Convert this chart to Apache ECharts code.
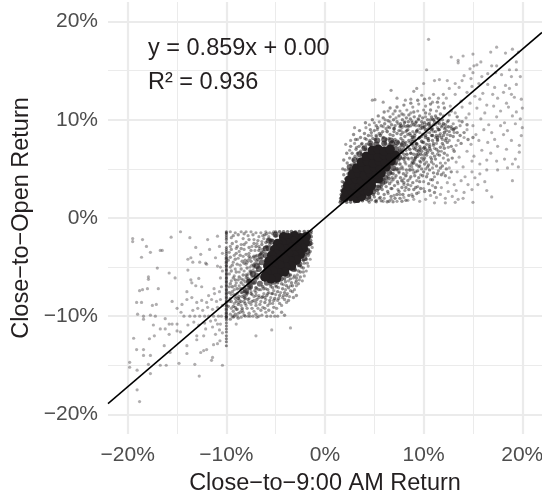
<!DOCTYPE html>
<html><head><meta charset="utf-8">
<style>html,body{margin:0;padding:0;background:#fff}#c{width:542px;height:497px}</style>
<script src="https://cdn.jsdelivr.net/npm/echarts@6/dist/echarts.min.js"></script>
</head><body><div id="c"></div>
<script>
const majorTicks=[-20,-10,0,10,20];
const minorTicks=[-15,-5,5,15];
const fitX=[-22,22];
const fitY=[-18.9,18.9];
const xTitle='Close\u2212to\u22129:00 AM Return';
const yTitle='Close\u2212to\u2212Open Return';
const eqText='y = 0.859x + 0.00';
const r2Text='R\u00b2 = 0.936';

const posFar=[[10.5,18.2],[10.3,15.1],[12.8,16.4],[13.5,16.05],[13.5,15.8],[14,16.5],[15,16.7],[16.8,16.9],[17.4,17.4],[18.3,16.8],[19,17.2],[19.6,16.9],[19.4,15.9],[15.8,15.9],[15.4,15.6],[15.1,15.5],[14.7,15.2],[16.9,15.5],[17.4,15.5],[18.7,15.1],[19.4,15.1],[19.8,14.4],[18.9,14.4],[17.9,14.6],[17.3,14.8],[16.5,14.7],[15.9,14.4],[15,14.8],[14.8,14.2],[14.1,14.5],[13.9,14],[13.2,13.7],[13.6,13.3],[14.9,13.4],[15.6,13.7],[16.5,13.6],[17.2,13.3],[18.3,13.5],[19.4,13.6],[18.7,13.2],[18.1,12.8],[18.9,12.6],[17,12.6],[16,12.7],[15.2,12.4],[14.4,12.8],[13.2,12.6],[12.6,13.2],[12.4,14],[11.6,14.1],[11.1,14],[10,13.7],[12.3,12.2],[13.8,11.9],[14.7,11.7],[15.7,12.1],[16.4,11.5],[17.5,12.2],[18.4,11.7],[19.2,12.3],[19.9,12.1],[20,11.2],[19.4,10.8],[18.6,11.3],[17.8,10.9],[17.1,11.4],[16.2,10.7],[15.4,11.2],[14.6,10.6],[13.9,11.3],[13.2,10.7],[12.7,11.4],[19.8,10.1],[19,10.4],[18.2,9.7],[17.4,10.3],[16.6,9.5],[15.8,10.1],[15,9.4],[14.3,10.2],[13.6,9.9],[20,9.2],[19.3,9.6],[18.5,8.9],[17.8,9.4],[16.9,8.7],[16.1,9],[15.3,8.5],[14.4,9],[19.9,8.4],[18.9,7.9],[18.1,8.5],[17.2,8],[16.5,7.7],[15.6,7.9],[14.8,7.5],[14.1,8.2],[13.3,7.4],[19.7,7.4],[18.4,7],[17.5,7.3],[16.8,6.6],[15.9,6.9],[15.1,6.3],[14.4,6.8],[13.6,6.2],[13,7],[19.7,6.7],[19.3,6],[18.2,6],[17.4,5.8],[16.4,5.9],[15.7,5.5],[14.9,5.8],[14,5.2],[13.3,5.7],[12.6,5.1],[19.6,5.2],[19,5.5],[18.5,5.1],[17.5,4.9],[16.4,4.9],[15.7,4.5],[14.9,4.7],[14.2,4.2],[13.4,4.7],[12.6,4.1],[19,3.8],[16.2,3.7],[15.5,3.4],[15.2,4.1],[14.5,3.4],[13.8,3.8],[13.1,3.4],[12.4,3.6],[11.8,3.1],[16.4,2.8],[16.9,2.15],[14.9,2.9],[14.1,2.6],[13.3,2.8],[12.5,2.7],[11.7,2.4],[15,1.6],[14,2],[13.5,1.9],[13.2,1.6],[12.2,1.55],[11.1,1.55],[12.9,2.2],[12.2,2],[11.3,2.1],[10.7,2.3],[10.2,1.9],[9.6,1.7],[9,1.9],[8.4,1.8],[8,2.1],[8.8,2.4],[9.5,2.6],[10,3],[10.9,3.3]];

const posMid=[[2.1,7.5],[2.6,7.9],[3,7.6],[3.3,8],[3,9.2],[4.15,9.2],[4.5,9.5],[5,9.7],[5.5,9.8],[4.8,12],[5.07,12.05],[5.9,11.8],[6.7,13],[7.3,12.2],[8.15,12],[8.7,12.1],[9,12.9],[9.3,13.2],[9.8,12.5],[10.6,12.2],[11,12.6],[11.5,12.2],[12,12.6],[9.5,11.6],[10.2,11.4],[10.9,11.8],[11.5,11.3],[12,11.7],[8.3,11],[8.9,11.3],[7.6,10.9],[6.9,10.6],[6.4,10.9],[7.2,10.2],[8,10.5],[8.7,10.7],[9.4,10.9],[10,11],[10.6,10.6],[11.3,10.9],[12,10.4],[12.6,10.5],[6.1,10],[6.6,9.8],[7.4,9.6],[8.1,9.8],[8.8,9.9],[9.5,10],[10.2,10.3],[10.9,10.1],[11.6,9.9],[12.4,9.8],[13,9.6],[13.7,9.4],[5.3,9],[5.9,9.3],[6.4,9.3],[7,9.1],[7.8,9.2],[8.5,9.3],[9.2,9.4],[10,9.3],[10.7,9.4],[11.4,9.2],[12.1,9.1],[12.8,9.1],[2.5,6.9],[3.2,7.2],[3.7,7.5],[4.2,8],[4.7,8.4],[5.2,8.3],[5.7,8.6],[8.2,8.8],[8.9,8.8],[9.6,8.7],[10.3,8.7],[11,8.8],[11.7,8.6],[12.4,8.5],[13.1,8.7],[9.1,8.2],[9.8,8.3],[10.5,8.1],[11.2,8.2],[11.9,8],[12.6,7.9],[13.5,7.9],[9.2,7.6],[9.9,7.7],[10.6,7.5],[11.3,7.6],[12,7.4],[12.5,7.2],[9.1,7],[9.7,7.1],[10.4,6.9],[11.1,7.1],[11.8,6.8],[12.4,6.4],[9.3,6.5],[10,6.4],[10.7,6.2],[11.4,6.5],[12,6.1],[9,5.9],[9.6,5.8],[10.3,5.7],[11,5.5],[11.7,5.6],[12.2,5.6],[8.8,5.2],[9.5,5.2],[10.2,5],[10.9,5.1],[11.5,4.8],[12,4.6],[8.3,4.6],[9,4.6],[9.7,4.4],[10.4,4.5],[11.1,4.2],[8,4],[8.6,4],[9.3,3.8],[10,3.7],[10.7,3.9],[11.4,3.6],[7.4,3.5],[8,3.4],[8.7,3.3],[9.4,3.2],[6.8,3],[7.4,2.9],[8.1,2.8],[7,2.3],[7.6,2.4],[6.4,2.5],[6,2],[6.7,1.9],[7.3,1.7],[5.5,2],[5.9,1.7],[5.1,1.7],[4.5,1.6],[8.6,7.7],[8.4,7.2],[8.7,6.6],[8.5,6],[8.2,5.5],[7.9,5],[7.5,4.6],[7.1,4.1],[6.7,3.7],[8.9,8.3],[9.4,9],[10.6,9.7],[9.9,9.6],[11.2,9.5],[11.9,9.4],[9.1,8.6],[8.2,9.3],[7.7,8.9]];

const posHalo=[[1.75,3.7],[1.9,4.4],[2.05,4.9],[2.2,3.9],[2.25,5.6],[2.4,4.9],[2.5,6.1],[2.65,5.4],[2.75,6.6],[2.85,5.9],[3.05,6.3],[3.15,7],[3.3,6.6],[3.45,7.3],[3.6,6.8],[3.75,7.6],[3.9,7.2],[4.05,8.1],[4.2,7.5],[4.4,8.4],[4.55,7.9],[4.7,8.7],[4.85,8.1],[5,8.9],[5.2,8.4],[5.35,9.2],[5.5,8.6],[5.7,9.4],[5.85,8.8],[6.05,9.6],[6.2,9.1],[6.4,9.9],[6.55,9.2],[6.75,9.5],[6.95,10],[7.1,9.4],[7.3,9.8],[7.5,10.4],[7.65,9.6],[7.85,10],[8.05,9.7],[8.25,10.2],[8.45,9.8],[8.65,10.1],[8.85,9.7],[9.05,10.3],[9.25,9.8],[9.45,10.1],[9.7,9.4],[9.9,10.2],[10.1,9.7],[10.4,10],[10.6,9.4],[10.8,10.3],[11.1,9.8],[11.3,10.2],[11.6,9.6],[11.9,10],[12.2,9.5],[12.5,9.9],[12.8,9.3],[13.1,9.1],[4.4,1.75],[4.7,1.85],[5,2.15],[5.2,1.8],[5.4,2.5],[5.6,2.1],[5.8,2.9],[6,2.4],[6.2,3.2],[6.35,2.7],[6.55,3.5],[6.7,3],[6.9,3.9],[7.05,3.3],[7.2,4.3],[7.35,3.7],[7.5,4.7],[7.65,4.1],[7.8,5.2],[7.95,4.5],[8.1,5.7],[8.25,4.9],[8.4,6.1],[8.55,5.3],[8.7,6.6],[8.85,5.7],[9,7.1],[9.15,6.1],[9.3,7.6],[9.45,6.5],[9.6,7.3],[9.8,6.8],[10,7.7],[10.2,7],[10.4,8.1],[10.6,7.3],[10.8,8.4],[11,7.6],[11.2,8.8],[11.4,7.9],[11.6,8.4],[5.2,1.65],[5.7,1.75],[6.3,1.65],[6.7,2.2],[7.1,2],[7.5,2.7],[7.9,2.4],[8.2,3.1],[8.5,2.9],[8.9,3.6],[9.2,3.1],[9.6,3.7],[9.9,4.3],[10.3,4.2],[10.6,4.9],[11,4.6],[11.3,5.3],[11.7,5.1],[8,3.6],[8.4,3.8],[8.7,4.2],[9.1,4.3],[9.4,4.8],[9.8,5],[10.1,5.5],[10.5,5.4],[10.8,6],[11.2,6],[11.6,6.4],[8.9,4.9],[9.3,5.4],[9.7,5.7],[10.1,6.1],[10.4,6.7],[10.9,6.6],[11.3,7],[11.7,7.2],[12.1,7.1],[12.3,8.1],[8.8,8],[9.1,7.9],[9.5,8.1],[9.9,8.5],[10.2,8.2],[10.6,8.7],[10.9,9.1],[11.3,8.4],[11.6,9],[12,8.4],[12.3,8.9],[12.7,8.4],[9.3,8.9],[9.7,9.1],[10.1,9.3],[10.5,9.1],[8.7,9.4],[8.4,9],[8,9.4],[7.6,9.3],[9.2,9.7],[8.6,8.6]];

const posTip=[[7.4,7.7],[7.7,8.1],[7.1,8],[6.8,7.8],[7.9,7.9],[8.2,7.7],[6.5,8.1],[6.9,8.4],[7.3,8.6],[7.7,8.5],[8.1,8.3],[8.4,8.5],[7.5,8.9],[7.9,8.7],[8.3,8.9],[8.7,8.4],[8.9,7.8],[9.1,8.4],[6.2,8],[5.9,8.2],[6.6,8.5],[7,8.8],[7.2,7.4],[7.6,7.2],[8,7.1],[8.3,7.4],[8.5,7.9],[7.8,7.5],[6.1,7.6],[6.5,7.5],[6.9,7.3],[8,6.5],[7.7,6.8],[8.2,6.9],[7.4,6.6],[7.8,6.1],[7.5,5.9],[8.1,6.2],[7.2,5.5],[7.6,5],[7,4.9],[6.7,4.6],[7.3,4.9],[6.4,4.2],[6.8,4.1],[6,3.9],[6.3,3.7],[5.7,3.6],[5.4,3.2],[5,2.9],[9.5,9.4],[9.8,9.8],[10.3,9.5],[10.7,10],[11,9.5],[11.4,9.7],[11.8,9.3],[12.2,9.2],[12.6,8.8],[13,8.3],[13.4,8.7],[13.3,9.2],[10.2,10.7],[10.7,11],[11.2,10.4],[11.7,10.6],[9.6,10.4],[9,10.8],[8.5,10.5],[7.8,10.6],[7.1,10.9],[6.6,10.3],[5.9,10.2],[5.2,9.4],[4.6,9],[4,8.6],[3.6,8.2],[3.1,8],[2.6,7.3],[2.2,6.6],[1.9,5.9],[1.8,5],[2.9,8.5],[3.5,8.9],[4.1,9.7],[4.8,10],[5.4,10.4],[6,10.8],[6.6,11.2],[7.3,11.3],[8,11.5],[8.7,11.7],[9.4,12],[10.1,12.1],[10.7,11.6],[11.4,11.8],[12.1,11.2],[12.8,10.9],[13.4,10.3],[13.9,9.8],[14.4,9.5],[14.1,8.7],[13.7,8.4],[13.8,7.6],[14.5,8],[15,8.2],[12.4,7.7],[12.8,7.3],[13.1,6.8],[12.1,6.6],[12.5,5.9],[12.9,6.1],[11.9,5.3],[12.3,5],[12.8,4.7],[11.4,4.5],[11.8,4.4],[12.2,4.3],[10.9,3.9],[11.2,3.1],[10.5,3.5],[10.1,2.7],[9.7,3],[9.3,2.5],[8.9,2.2],[8.5,2.3],[8.2,1.8],[7.8,1.7],[10.6,2.8],[11.1,2.6],[6.5,1.7],[6.9,1.65],[7.6,2],[7.3,2.4],[7.8,3.1],[8.4,3.4],[9,2.9],[9.5,4.1],[10,4.7],[10.4,5.2],[10.8,5.7],[11.1,6.3],[11.5,6.8],[11.9,7.6],[12.2,7.9],[9.2,4.7],[9.6,5.3],[10,5.9],[10.3,6.4],[10.7,6.9],[11,7.4],[11.4,8],[11.8,8.2],[8.8,5.5],[9.1,5.9],[9.4,6.3],[9.8,6.1],[10.2,6.6],[10.6,7.1],[10.9,7.9],[10.3,7.5],[10,7.1],[9.6,7],[9.3,6.9],[9,6.5],[8.8,6.1],[8.9,7.4],[9.2,7.2]];

const posRing=[[2.5,5.2],[3,5.9],[3.5,6.5],[4,7.1],[4.6,7.6],[5.3,7.9],[6,8],[6.7,7.9],[7.3,7.7],[7.9,7.5],[7.7,6.8],[7.5,6.2],[7.1,5.7],[6.9,5.1],[6.5,4.6],[6.1,4.1],[5.8,3.6],[5.4,3.1],[4.9,2.7],[4.4,2.2],[5.2,7.5],[6,7.6],[6.8,7.6],[7.2,7],[5.6,3.9]];

const posDense=[[1.55,1.6],[1.6,1.75],[1.8,1.65],[2.2,1.6],[2.6,1.62],[3,1.65],[3.4,1.7],[3.8,1.75],[4.2,1.9],[1.6,2],[1.65,2.4],[1.7,2.8],[1.8,3.2],[1.95,3.6],[2.1,4],[2.35,4.5],[2.6,5],[2.95,5.5],[3.3,6],[3.7,6.5],[4.1,7],[4.6,7.5],[5.1,8],[5.6,8.4],[6.3,8.8],[7,9.1],[7.7,9.4],[8.4,9.4],[9,9.5],[4.5,2.1],[4.9,2.4],[5.3,2.8],[5.7,3.2],[6.1,3.6],[6.5,4],[6.9,4.5],[7.3,5],[7.6,5.5],[8,6],[8.3,6.5],[8.6,7],[8.8,7.6],[8.9,8.2],[9.3,8.8],[9.9,9.2],[10.5,9.6],[11,10],[11.5,10.1],[12,9.6],[12.5,9.3],[13,9],[10.2,9],[10.8,9],[11.5,9],[12.1,8.7],[9.6,8.2],[10.2,8.4],[10.9,8.4],[11.4,8.2],[9.3,7.5],[9.8,7.8],[10.5,7.9],[9.5,6.8],[10.1,7.2],[9.2,6.2],[9.7,6.5],[9,5.6],[8.6,4.9],[8.2,4.3],[7.8,3.8]];

const posCore=[[2,2.1],[2.6,2.2],[3.2,2],[3.7,2.2],[2.1,2.7],[2.7,2.8],[3.3,2.6],[3.9,2.8],[4.4,2.7],[2.3,3.3],[2.9,3.4],[3.5,3.2],[4.1,3.4],[4.7,3.3],[2.5,3.9],[3.1,4],[3.7,3.8],[4.3,4],[4.9,3.9],[5.4,4],[2.8,4.5],[3.4,4.6],[4,4.4],[4.6,4.6],[5.2,4.5],[5.7,4.6],[3.2,5.1],[3.8,5.2],[4.4,5],[5,5.2],[5.6,5.1],[6.2,5.2],[3.7,5.7],[4.3,5.8],[4.9,5.6],[5.5,5.8],[6.1,5.7],[6.7,5.8],[4.2,6.3],[4.8,6.4],[5.4,6.2],[6,6.4],[6.6,6.3],[7.1,6.4],[4.8,6.9],[5.4,7],[6,6.8],[6.6,7]];

const negFar=[[-19.5,-2.1],[-19.5,-2.4],[-18.5,-2.2],[-15.6,-1.95],[-14.65,-1.4],[-13.7,-2],[-11.9,-2.2],[-10.9,-1.85],[-18.1,-2.9],[-17.7,-3.5],[-16.7,-3.3],[-16.5,-3.3],[-18.6,-4],[-13.1,-3],[-11.7,-3.2],[-12.6,-3.7],[-13.9,-4.2],[-13.6,-4.05],[-11.1,-4.05],[-13.4,-4.5],[-12.7,-4.5],[-12.1,-4.6],[-12,-4.7],[-17,-5.1],[-13.9,-5.3],[-15.8,-5.6],[-15.2,-6.1],[-17.9,-6],[-17.9,-6.25],[-13.6,-6.3],[-12.8,-6.15],[-10.6,-6.1],[-13.5,-6.6],[-13.1,-6.9],[-12.5,-7],[-11.25,-7.2],[-18.8,-7.4],[-18.5,-7.3],[-18,-7.2],[-16.9,-7.2],[-14,-7.5],[-19.1,-8.6],[-18.6,-8.6],[-17.5,-8.9],[-17.1,-8.8],[-15.5,-8.5],[-14,-8.3],[-13.5,-8.1],[-14.5,-8.8],[-15,-9.2],[-14.6,-9.6],[-19,-9.8],[-18.4,-10],[-18.4,-10.3],[-17.7,-9.9],[-17.2,-10],[-16.2,-10.25],[-17.4,-10.9],[-15.8,-10.8],[-15.5,-10.8],[-15,-10.8],[-16.2,-11.3],[-16.7,-11.3],[-15.8,-11.85],[-15,-11.5],[-14.65,-11.6],[-19.4,-12.25],[-17.8,-12.3],[-17.3,-12],[-13,-12],[-13,-12.4],[-12.3,-12],[-11.1,-11.85],[-10.9,-10.8],[-10.65,-12.5],[-10.9,-12.8],[-11.3,-12.9],[-19.1,-13.4],[-18.4,-13.4],[-18.4,-14],[-17.7,-14],[-16.3,-13],[-15.7,-13.7],[-14,-13],[-14,-13.8],[-12.6,-13.7],[-12.3,-13.5],[-12,-13.4],[-11.4,-14.2],[-11.5,-14.5],[-19.8,-14.7],[-19.8,-15.2],[-19.05,-15.5],[-17.9,-14.9],[-17.7,-15.85],[-16.7,-15],[-16.1,-15],[-14.8,-14.8],[-13.2,-14.9],[-10.4,-15],[-12.75,-16.1],[-19.05,-17.5],[-18.8,-18.7],[-9,-10.8],[-7,-12],[-5.4,-11.4],[-3.5,-11.2],[-14.3,-10],[-13.7,-10],[-13.2,-10],[-12.7,-10],[-12.2,-10],[-11.8,-10],[-11.3,-10],[-10.8,-10],[-10.5,-10],[-13.4,-9.4],[-12.9,-9.2],[-12.4,-9.4],[-11.9,-9.1],[-11.4,-9.3],[-10.9,-9.1],[-13,-8.6],[-12.5,-8.4],[-12,-8.6],[-11.5,-8.3],[-11,-8.5],[-10.6,-8.3],[-11.8,-7.9],[-11.2,-7.7],[-10.7,-7.5],[-13.3,-10.6],[-12.8,-10.9],[-12.2,-10.7],[-11.6,-10.5],[-11.1,-10.4],[-10.6,-10.8],[-13.9,-10.9],[-12.1,-11.3],[-11.4,-11.1],[-10.7,-11.4],[-10.4,-11.7],[-10.4,-8.9],[-10.5,-7],[-10.4,-5.4],[-10.6,-5],[-10.9,-4.9],[-10.4,-3.6],[-10.7,-2.9]];

const negStreak=[-1.4,-1.5,-1.6,-1.8,-2,-2.2,-2.5,-3,-3.2,-3.4,-3.6,-3.8,-4,-4.1,-4.2,-4.4,-4.5,-4.6,-4.8,-4.9,-5,-5.2,-5.3,-5.4,-5.6,-5.7,-5.8,-6,-6.1,-6.2,-6.4,-6.5,-6.6,-6.8,-6.9,-7,-7.2,-7.3,-7.4,-7.6,-7.7,-7.8,-8,-8.1,-8.2,-8.4,-8.5,-8.6,-8.8,-8.9,-9,-9.2,-9.3,-9.4,-9.6,-9.7,-9.8,-10,-10,-10.1,-10.2,-10.4,-10.7,-11,-11.3,-11.6,-12,-12.3,-12.6,-13];

const negMid=[[-9.6,-1.4],[-9.1,-1.5],[-8.5,-1.4],[-8,-1.4],[-7.5,-1.4],[-7,-1.5],[-6.5,-1.5],[-6,-1.4],[-5.6,-1.5],[-5.2,-1.4],[-9.5,-2],[-9,-2.4],[-8.3,-2.1],[-7.8,-1.8],[-7.2,-2.2],[-6.7,-1.9],[-6.2,-2.1],[-5.7,-1.9],[-9.6,-2.9],[-9,-3.1],[-8.5,-2.7],[-8,-2.5],[-7.4,-2.9],[-6.9,-2.6],[-6.4,-2.4],[-9.7,-3.5],[-9.2,-3.8],[-8.7,-3.4],[-8.2,-3.2],[-7.7,-3.6],[-7.1,-3.3],[-6.6,-3.1],[-6.2,-3.4],[-9.8,-4.3],[-9.3,-4.5],[-8.8,-4.1],[-8.3,-3.9],[-7.8,-4.3],[-7.3,-4],[-6.9,-3.8],[-6.5,-4.1],[-9.6,-5],[-9.1,-5.2],[-8.6,-4.8],[-8,-4.7],[-7.6,-5],[-7.1,-4.6],[-6.7,-4.7],[-9.7,-5.7],[-9.2,-5.9],[-8.7,-5.5],[-8.2,-5.4],[-7.8,-5.7],[-7.3,-5.3],[-6.9,-5.4],[-9.5,-6.4],[-9,-6.6],[-8.5,-6.2],[-8,-6.1],[-7.6,-6.3],[-7.2,-6],[-9.7,-7],[-9.2,-7.3],[-8.7,-6.9],[-8.3,-6.8],[-7.8,-6.9],[-7.4,-6.7],[-6.9,-7.2],[-9.5,-7.8],[-9,-8],[-8.5,-7.6],[-8,-7.4],[-7.5,-7.5],[-7,-7.6],[-6.5,-7.3],[-6,-7.2],[-5.5,-7],[-5,-6.9],[-9.7,-8.5],[-9.2,-8.7],[-8.7,-8.3],[-8.2,-8.1],[-7.7,-8.2],[-7.2,-8],[-6.7,-7.9],[-6.2,-7.7],[-5.7,-7.6],[-5.2,-7.4],[-4.7,-7.1],[-4.2,-6.8],[-3.7,-6.4],[-3.2,-6.1],[-2.8,-5.8],[-9.5,-9.2],[-9,-9.3],[-8.5,-8.9],[-8,-8.9],[-7.5,-8.8],[-7,-8.6],[-6.5,-8.5],[-6,-8.3],[-5.5,-8.1],[-5,-7.8],[-4.5,-7.6],[-4,-7.3],[-3.5,-6.9],[-3,-6.6],[-2.6,-6.3],[-9.6,-9.8],[-9.2,-10],[-8.8,-9.7],[-8.3,-9.6],[-7.8,-10],[-7.6,-10],[-7.2,-9.5],[-6.8,-9.2],[-6.3,-9.1],[-5.8,-8.9],[-5.3,-8.7],[-4.8,-8.4],[-4.3,-8.1],[-3.8,-7.7],[-3.5,-7.4],[-3.1,-7.3],[-2.9,-6.9],[-9.4,-10],[-8.9,-10],[-8.5,-10.1],[-8.1,-10],[-7.3,-10],[-6.7,-10],[-6.4,-9.9],[-6,-9.6],[-5.5,-10],[-5.1,-10],[-4.8,-10],[-4.9,-9.2],[-4.4,-8.9],[-3.9,-8.6],[-3.6,-8],[-2.3,-6.4],[-2.1,-5.9],[-1.9,-5.4],[-1.7,-4.9],[-1.5,-4.2],[-1.6,-3.6],[-1.3,-3]];

const negHalo=[[-5.3,-1.6],[-5.7,-2.2],[-6.1,-1.7],[-6.4,-2.7],[-6.7,-3.3],[-7,-2.9],[-7.2,-3.9],[-7.5,-4.4],[-7.7,-3.9],[-7.9,-5.1],[-8.2,-4.6],[-8.3,-5.8],[-8.5,-6.6],[-8.7,-6],[-8.9,-7.2],[-9.1,-6.3],[-9.2,-7.8],[-9.4,-7],[-9.5,-8.5],[-9.7,-7.6],[-9.8,-9],[-5.6,-2.7],[-6,-2.5],[-6.3,-3.2],[-6.6,-3.7],[-6.9,-4.4],[-7.2,-5],[-7.5,-5.7],[-7.8,-6.4],[-8.1,-7],[-8.4,-7.6],[-8.7,-8],[-9,-8.5],[-9.3,-9],[-6.9,-6.2],[-7.2,-6.6],[-7.6,-7.2],[-7.9,-7.6],[-8.2,-7.9],[-8.5,-8.5],[-8.8,-8.8],[-9.1,-9.1],[-7.1,-7.4],[-7.4,-7.8],[-7.8,-8.3],[-8.1,-8.7],[-8.4,-9.2],[-6.7,-7.3],[-6.2,-7.2],[-5.8,-7.3],[-5.3,-7.1],[-4.9,-7],[-4.4,-6.7],[-4,-6.5],[-3.5,-6.2],[-3.1,-5.9],[-2.7,-5.4],[-2.4,-5],[-2.1,-4.6],[-1.9,-4.2],[-1.7,-3.8],[-1.5,-3.4],[-1.35,-2.6],[-2.9,-6.1],[-3.4,-6.6],[-3.9,-6.9],[-4.3,-7.2],[-4.8,-7.5],[-5.4,-7.7],[-5.9,-7.9],[-6.4,-8.1],[-6.9,-8.3],[-7.4,-8.5],[-2.5,-5.5],[-2.2,-5.1],[-6.1,-8.6],[-5.6,-8.4],[-5.1,-8.2],[-4.6,-7.9],[-4.1,-7.6],[-3.7,-7.1],[-3.3,-6.9],[-2.9,-6.4]];

const negTip=[[-9.3,-1.8],[-8.8,-1.7],[-8.2,-1.6],[-7.7,-2.2],[-7.3,-1.7],[-6.8,-2.3],[-6.3,-1.8],[-5.9,-1.6],[-9.4,-2.6],[-8.9,-2.9],[-8.2,-2.7],[-7.7,-3],[-7.2,-2.6],[-6.7,-2.9],[-6.1,-3],[-9.5,-3.2],[-9,-3.6],[-8.5,-3.1],[-8,-3.7],[-7.5,-3.3],[-7,-3.9],[-6.5,-3.6],[-9.6,-4],[-9.1,-4.2],[-8.6,-3.8],[-8.1,-4.3],[-7.6,-4.1],[-7.1,-4.2],[-9.4,-4.8],[-8.9,-4.7],[-8.4,-4.4],[-7.9,-4.5],[-7.4,-4.8],[-9.5,-5.4],[-9,-5.5],[-8.5,-5.2],[-8,-5.8],[-7.6,-5.4],[-7.1,-5.5],[-9.3,-6.1],[-8.8,-6.3],[-8.3,-6.3],[-7.9,-5.9],[-7.4,-6],[-9.6,-6.7],[-9.1,-6.9],[-8.6,-7.2],[-8.1,-6.5],[-7.7,-6.6],[-9.4,-7.5],[-8.9,-7.7],[-8.4,-8],[-8,-7.9],[-7.5,-7.7],[-7,-7.9],[-9.6,-8.2],[-9.1,-8.2],[-8.7,-8.6],[-8.2,-8.5],[-7.7,-8.6],[-7.2,-8.4],[-6.7,-8.1],[-6.3,-8],[-5.8,-7.7],[-5.3,-7.7],[-9.3,-9.5],[-8.9,-9.3],[-8.4,-9.4],[-7.9,-9.2],[-7.4,-9.2],[-7,-8.9],[-6.6,-8.8],[-6.1,-8.1],[-5.6,-8.7],[-5.2,-8.4],[-4.7,-8.2],[-4.2,-7.9],[-3.9,-7.9],[-3.3,-7.5],[-2.7,-6.7],[-2.5,-6],[-2.2,-5.5],[-1.8,-4.6],[-9.1,-9.8],[-8.6,-9.6],[-8.2,-9.9],[-7.7,-9.7],[-7,-9.8],[-6.5,-9.4],[-6.1,-9.2],[-5.7,-9.4],[-5.2,-9.1],[-4.6,-8.7],[-4.1,-8.3],[-8.8,-10.2],[-9.3,-10.1],[-9.6,-10.3],[-6.9,-10.1],[-5.9,-10],[-5.3,-9.6],[-4.4,-9.6],[-3.7,-8.4],[-3.2,-8.1],[-4.1,-9.9],[-2.9,-7.9]];

const negRing=[[-5,-1.7],[-5.4,-2.4],[-5.7,-3.1],[-6,-3.8],[-6.4,-4.5],[-6.7,-5.2],[-6.9,-5.9],[-7.2,-6.5],[-6.6,-6.7],[-5.9,-6.6],[-5.2,-6.5],[-4.5,-6.2],[-3.8,-5.8],[-3.2,-5.2],[-2.6,-4.7],[-2.1,-4.1],[-1.8,-3.4],[-1.6,-2.6],[-7.6,-7],[-8,-7.4],[-7.7,-6.5],[-7.3,-5.7],[-6.9,-4.9],[-6.5,-3.9],[-6,-3.1],[-5.7,-2.3]];

const negDense=[[-1.4,-1.35],[-1.45,-1.55],[-1.7,-1.37],[-2.1,-1.37],[-2.6,-1.38],[-3,-1.4],[-3.4,-1.38],[-3.8,-1.4],[-4.2,-1.4],[-4.6,-1.4],[-5,-1.42],[-1.4,-1.9],[-1.45,-2.3],[-1.55,-2.7],[-1.7,-3.2],[-1.95,-3.7],[-2.2,-4.3],[-2.6,-4.8],[-3,-5.3],[-3.5,-5.8],[-4.1,-6.2],[-4.8,-6.6],[-5.5,-6.8],[-6.3,-7],[-7,-7.1],[-7.6,-7],[-7.8,-6.2],[-7.5,-5.5],[-7.2,-4.8],[-6.8,-4.2],[-6.4,-3.5],[-5.9,-2.9],[-5.4,-2.3],[-5,-1.8],[-8.2,-7.5],[-7.9,-7.7],[-8.4,-7.2],[-8.8,-8.2],[-8.1,-8.2]];

const negCore=[[-1.9,-1.9],[-2.5,-2],[-3.1,-1.8],[-3.7,-2],[-4.2,-1.9],[-2,-2.5],[-2.6,-2.6],[-3.2,-2.4],[-3.8,-2.6],[-4.4,-2.5],[-4.8,-2.6],[-2.2,-3.1],[-2.8,-3.2],[-3.4,-3],[-4,-3.2],[-4.6,-3.1],[-5.1,-3.2],[-2.5,-3.7],[-3.1,-3.8],[-3.7,-3.6],[-4.3,-3.8],[-4.9,-3.7],[-5.4,-3.8],[-2.9,-4.3],[-3.5,-4.4],[-4.1,-4.2],[-4.7,-4.4],[-5.3,-4.3],[-5.7,-4.4],[-3.4,-4.9],[-4,-5],[-4.6,-4.8],[-5.2,-5],[-5.8,-4.9],[-4.1,-5.5],[-4.7,-5.6],[-5.3,-5.4],[-5.9,-5.6],[-4.9,-6.1],[-5.5,-6.2],[-6.1,-6]];

const streakPts=negStreak.map(y=>[-10,y]);
const dark='#231f20';
const dots=(name,data,size,op)=>({name,type:'scatter',data,symbolSize:size,silent:true,z:3,itemStyle:{color:dark,opacity:op,borderWidth:0}});
const axis=(extra)=>Object.assign({type:'value',min:-22,max:22,
  axisLine:{show:false},
  axisTick:{show:false,customValues:majorTicks},
  axisLabel:{customValues:majorTicks,color:'#4d4d4d',fontSize:21,fontFamily:'Liberation Sans',
    formatter:v=>(v<0?'\u2212'+Math.abs(v):v)+'%'},
  splitLine:{show:true,lineStyle:{color:'#ebebeb',width:2.2}},
  nameLocation:'middle',
  nameTextStyle:{color:dark,fontSize:23.5,fontFamily:'Liberation Sans'}},extra);
const xA=axis({name:xTitle,nameGap:38});
xA.axisLabel.margin=11;
const yA=axis({name:yTitle,nameGap:74,nameMoveOverlap:false});
yA.axisLabel.margin=10;
yA.axisLabel.padding=[6,0,0,0];

const chart=echarts.init(document.getElementById('c'),null,{renderer:'canvas'});
chart.setOption({
  animation:false,backgroundColor:'#fff',
  grid:{left:108,top:2,width:434,height:432,containLabel:false,outerBoundsMode:'none'},
  xAxis:xA,
  yAxis:yA,
  series:[
    {name:'grid',type:'line',data:[],silent:true,z:1,markLine:{z:1,silent:true,symbol:'none',animation:false,label:{show:false},
      lineStyle:{color:'#ebebeb',width:1,type:'solid'},
      data:minorTicks.map(v=>({xAxis:v})).concat(minorTicks.map(v=>({yAxis:v})))}},
    dots('posFar',posFar,3.2,.36),
    dots('posMid',posMid,3.2,.42),
    dots('posHalo',posHalo,3.4,.5),
    dots('posTip',posTip,3.4,.5),
    dots('posDense',posDense,3.6,.6),
    dots('posRing',posRing,6,.65),
    dots('posCore',posCore,9.5,1),
    dots('negFar',negFar,3.2,.36),
    dots('negMid',negMid,3.2,.42),
    dots('negHalo',negHalo,3.4,.5),
    dots('negTip',negTip,3.4,.45),
    dots('negStreak',streakPts,3,.55),
    dots('negDense',negDense,3.6,.6),
    dots('negRing',negRing,6,.65),
    dots('negCore',negCore,9.5,1),
    {name:'fit',type:'line',data:fitX.map((x,i)=>[x,fitY[i]]),symbol:'none',silent:true,z:5,lineStyle:{color:'#000',width:1.5}}
  ],
  graphic:[
    {type:'text',left:148,top:37,z:10,style:{text:eqText,fill:dark,fontSize:23.5,fontFamily:'Liberation Sans'}},
    {type:'text',left:148,top:71,z:10,style:{text:r2Text,fill:dark,fontSize:23.5,fontFamily:'Liberation Sans'}}
  ]
});
</script></body></html>
